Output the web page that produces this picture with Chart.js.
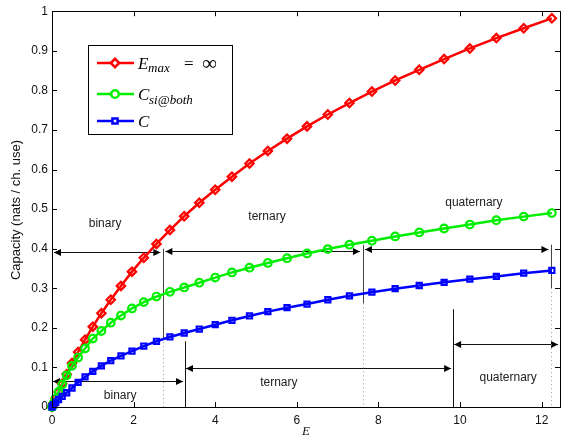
<!DOCTYPE html>
<html>
<head>
<meta charset="utf-8">
<script src="https://cdn.jsdelivr.net/npm/chart.js@4.4.1/dist/chart.umd.min.js"></script>
<style>
  html, body { margin: 0; padding: 0; background: #fff; }
  #cadre { width: 567px; height: 438px; }
</style>
</head>
<body>
<div id="cadre"><canvas id="graph01" width="567" height="438"></canvas></div>
<script>
// abscisses : E (points communs aux trois courbes)
const energie = [0, 0.01, 0.04, 0.09, 0.16, 0.25, 0.36, 0.49, 0.64, 0.81, 1, 1.21, 1.44, 1.69, 1.96, 2.25,
  2.56, 2.89, 3.24, 3.61, 4, 4.41, 4.84, 5.29, 5.76, 6.25, 6.76, 7.29, 7.84, 8.41, 9, 9.61, 10.24, 10.89, 11.56, 12.25];

// E_max = infini
const capaciteInf = [0, 0.002, 0.010, 0.022, 0.038, 0.059, 0.083, 0.111, 0.139, 0.170, 0.203, 0.237, 0.271, 0.306, 0.342, 0.377,
  0.412, 0.447, 0.482, 0.516, 0.549, 0.582, 0.615, 0.647, 0.678, 0.709, 0.739, 0.768, 0.797, 0.825, 0.852, 0.879, 0.906, 0.932, 0.957, 0.982];

// C si@both
const capaciteSi = [0, 0.002, 0.010, 0.022, 0.038, 0.057, 0.080, 0.104, 0.125, 0.148, 0.173, 0.192, 0.213, 0.231, 0.249, 0.265,
  0.279, 0.291, 0.302, 0.314, 0.327, 0.340, 0.352, 0.364, 0.376, 0.388, 0.399, 0.410, 0.420, 0.431, 0.441, 0.451, 0.461, 0.472, 0.481, 0.490];

// C
const capaciteC = [0, 0.002, 0.006, 0.012, 0.019, 0.027, 0.036, 0.048, 0.062, 0.076, 0.090, 0.104, 0.117, 0.129, 0.141, 0.154,
  0.166, 0.177, 0.187, 0.197, 0.208, 0.219, 0.230, 0.241, 0.251, 0.260, 0.271, 0.281, 0.290, 0.299, 0.307, 0.315, 0.323, 0.330, 0.338, 0.345];

const xTicks = [0, 2, 4, 6, 8, 10, 12];
const yTicks = [0, 0.1, 0.2, 0.3, 0.4, 0.5, 0.6, 0.7, 0.8, 0.9, 1];

// zones de constellation (haut : E_max = inf, bas : C)
const zonesNoms = ['binary', 'ternary', 'quaternary'];
const bornesHaut = [0, 2.73, 7.62, 12.24];
const flechesHaut = [0.391, 0.395, 0.399];
const traitsHaut = [[0.40, 0.174], [0.41, 0.262], [0.41, 0.30]];
const textesHaut = [[1.3, 0.464], [5.27, 0.481], [10.34, 0.516]];

const bornesBas = [0, 3.26, 9.83, 12.45];
const flechesBas = [0.065, 0.098, 0.160];
const traitsBas = [[0.166, 0], [0.247, 0]];
const textesBas = [[1.67, 0.029], [5.56, 0.061], [11.18, 0.075]];

const COULEURS = { rouge: '#ff0000', vert: '#00ee00', bleu: '#0000ff' };

function fleche(ctx, x1, x2, y) {
  ctx.beginPath();
  ctx.moveTo(x1, y);
  ctx.lineTo(x2, y);
  ctx.stroke();
  [[x1, 1], [x2, -1]].forEach(([x, s]) => {
    ctx.beginPath();
    ctx.moveTo(x, y);
    ctx.lineTo(x + s * 7, y - 3.5);
    ctx.lineTo(x + s * 7, y + 3.5);
    ctx.closePath();
    ctx.fill();
  });
}

const annotations = {
  id: 'annotations',
  beforeDatasetsDraw(chart) {
    const ctx = chart.ctx, sx = chart.scales.x, sy = chart.scales.y;
    ctx.save();
    ctx.lineWidth = 1;
    ctx.strokeStyle = '#111';
    ctx.fillStyle = '#000';
    // flèches
    for (let i = 0; i < 3; i++) {
      fleche(ctx, sx.getPixelForValue(bornesHaut[i]) + 2, sx.getPixelForValue(bornesHaut[i + 1]) - 3, Math.round(sy.getPixelForValue(flechesHaut[i])) + 0.5);
      fleche(ctx, sx.getPixelForValue(bornesBas[i]) + 1, sx.getPixelForValue(bornesBas[i + 1]) - 2, Math.round(sy.getPixelForValue(flechesBas[i])) + 0.5);
    }
    // traits verticaux
    ctx.strokeStyle = '#444';
    for (let i = 0; i < 3; i++) {
      const x = Math.round(sx.getPixelForValue(bornesHaut[i + 1])) + 0.5;
      ctx.setLineDash([]);
      ctx.beginPath();
      ctx.moveTo(x, sy.getPixelForValue(traitsHaut[i][0]));
      ctx.lineTo(x, sy.getPixelForValue(traitsHaut[i][1]));
      ctx.stroke();
      ctx.strokeStyle = '#999';
      ctx.setLineDash([1, 3]);
      ctx.beginPath();
      ctx.moveTo(x, sy.getPixelForValue(traitsHaut[i][1]));
      ctx.lineTo(x, sy.getPixelForValue(0));
      ctx.stroke();
      ctx.strokeStyle = '#444';
    }
    ctx.setLineDash([]);
    ctx.strokeStyle = '#111';
    for (let i = 0; i < 2; i++) {
      const x = Math.round(sx.getPixelForValue(bornesBas[i + 1])) + 0.5;
      ctx.beginPath();
      ctx.moveTo(x, sy.getPixelForValue(traitsBas[i][0]));
      ctx.lineTo(x, sy.getPixelForValue(traitsBas[i][1]));
      ctx.stroke();
    }
    // textes
    ctx.font = '12px "Liberation Sans", Arial, sans-serif';
    ctx.fillStyle = '#222';
    ctx.textAlign = 'center';
    ctx.textBaseline = 'middle';
    for (let i = 0; i < 3; i++) {
      ctx.fillText(zonesNoms[i], sx.getPixelForValue(textesHaut[i][0]), sy.getPixelForValue(textesHaut[i][1]));
      ctx.fillText(zonesNoms[i], sx.getPixelForValue(textesBas[i][0]), sy.getPixelForValue(textesBas[i][1]));
    }
    ctx.restore();
  },
  afterDatasetsDraw(chart) {
    const ctx = chart.ctx, a = chart.chartArea, sx = chart.scales.x, sy = chart.scales.y;
    ctx.save();
    // cadre et graduations internes
    ctx.strokeStyle = '#000';
    ctx.lineWidth = 1;
    ctx.strokeRect(Math.round(a.left) + 0.5, Math.round(a.top) + 0.5, Math.round(a.right - a.left), Math.round(a.bottom - a.top));
    ctx.beginPath();
    xTicks.forEach(v => {
      const x = Math.round(sx.getPixelForValue(v)) + 0.5;
      ctx.moveTo(x, a.bottom); ctx.lineTo(x, a.bottom - 5);
      ctx.moveTo(x, a.top); ctx.lineTo(x, a.top + 5);
    });
    yTicks.forEach(v => {
      const y = Math.round(sy.getPixelForValue(v)) + 0.5;
      ctx.moveTo(a.left, y); ctx.lineTo(a.left + 5, y);
      ctx.moveTo(a.right, y); ctx.lineTo(a.right - 5, y);
    });
    ctx.stroke();

    // titres des axes
    ctx.fillStyle = '#111';
    ctx.font = '13px "Liberation Sans", Arial, sans-serif';
    ctx.textAlign = 'center';
    ctx.textBaseline = 'middle';
    ctx.save();
    ctx.translate(16, 210);
    ctx.rotate(-Math.PI / 2);
    ctx.fillText('Capacity (nats / ch. use)', 0, 0);
    ctx.restore();
    ctx.font = 'italic 13px "Liberation Serif", "DejaVu Serif", serif';
    ctx.fillText('E', (a.left + a.right) / 2, 432);

    // légende
    const lx = 88.5, ly = 45.5, lw = 144, lh = 89;
    ctx.fillStyle = '#fff';
    ctx.fillRect(lx, ly, lw, lh);
    ctx.strokeStyle = '#000';
    ctx.strokeRect(lx, ly, lw, lh);
    const rangs = [63, 94, 121];
    chart.data.datasets.forEach((ds, i) => {
      const y = rangs[i];
      ctx.strokeStyle = ds.borderColor;
      ctx.lineWidth = 2.5;
      ctx.beginPath();
      ctx.moveTo(97, y); ctx.lineTo(134, y);
      ctx.stroke();
      Chart.helpers.drawPoint(ctx, {
        pointStyle: ds.pointStyle, radius: ds.pointRadius, borderWidth: ds.pointBorderWidth, rotation: 0
      }, 115, y);
    });
    ctx.fillStyle = '#000';
    ctx.textAlign = 'left';
    ctx.textBaseline = 'alphabetic';
    const grand = 'italic 17px "Liberation Serif", "DejaVu Serif", serif';
    const petit = 'italic 13px "Liberation Serif", "DejaVu Serif", serif';
    // E_max = inf
    ctx.font = grand; ctx.fillText('E', 138, 69);
    ctx.font = petit; ctx.fillText('max', 148, 72);
    ctx.font = '17px "Liberation Serif", "DejaVu Serif", serif'; ctx.fillText('=', 184, 69);
    ctx.font = '21px "Liberation Serif", "DejaVu Serif", serif'; ctx.fillText('\u221E', 202, 70);
    // C si@both
    ctx.font = grand; ctx.fillText('C', 138, 100);
    ctx.font = petit; ctx.fillText('si@both', 149, 104);
    // C
    ctx.font = grand; ctx.fillText('C', 138, 127);
    ctx.restore();
  }
};

// trace la courbe
function dessineCourbe(id) {
  const serie = (label, valeurs, couleur, style, rayon, ordre) => ({
    label: label,
    data: energie.map((e, i) => ({ x: e, y: valeurs[i] })),
    borderColor: couleur,
    backgroundColor: 'rgba(255,255,255,0)',
    borderWidth: 2.5,
    pointStyle: style,
    pointRadius: rayon,
    pointBorderWidth: 2.2,
    pointBorderColor: couleur,
    pointBackgroundColor: 'rgba(255,255,255,0)',
    tension: 0,
    order: ordre,
    clip: 8
  });
  const data = {
    datasets: [
      serie('E_max = \u221E', capaciteInf, COULEURS.rouge, 'rectRot', 4.2, 3),
      serie('C_si@both', capaciteSi, COULEURS.vert, 'circle', 3.8, 2),
      serie('C', capaciteC, COULEURS.bleu, 'rect', 3.6, 1)
    ]
  };
  const police = { size: 12, family: '"Liberation Sans", Arial, sans-serif' };
  const options = {
    responsive: false,
    animation: false,
    layout: { padding: { top: 11, right: 7, left: 0, bottom: 0 } },
    scales: {
      x: {
        type: 'linear', min: 0, max: 12.45,
        grid: { display: false, drawTicks: false },
        border: { display: false },
        ticks: { color: '#111', padding: 6, font: police, callback: v => String(v) },
        afterBuildTicks: s => { s.ticks = xTicks.map(v => ({ value: v })); },
        afterFit: s => { s.height = 31; }
      },
      y: {
        type: 'linear', min: 0, max: 1,
        grid: { display: false, drawTicks: false },
        border: { display: false },
        ticks: { color: '#111', padding: 4, font: police, callback: v => String(Number(v.toFixed(1))) },
        afterBuildTicks: s => { s.ticks = yTicks.map(v => ({ value: v })); },
        afterFit: s => { s.width = 52; }
      }
    },
    plugins: {
      legend: { display: false },
      tooltip: { enabled: false }
    }
  };
  new Chart(document.getElementById(id).getContext('2d'), { type: 'line', data: data, options: options, plugins: [annotations] });
}

dessineCourbe('graph01');
</script>
</body>
</html>
